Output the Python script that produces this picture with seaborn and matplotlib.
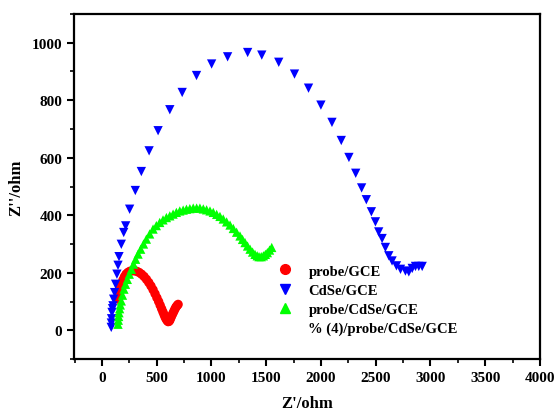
import numpy as np
import pandas as pd
import matplotlib
matplotlib.use("Agg")
import matplotlib.pyplot as plt
import seaborn as sns
from matplotlib.lines import Line2D
from matplotlib.ticker import MultipleLocator

# ---- data ----
red_x = [150, 155, 162, 170, 180, 192, 205, 220, 237, 255, 275, 296, 318, 340, 362, 385,
         407, 428, 448, 467, 485, 502, 518, 532, 545, 557, 568, 578, 588, 597, 605, 613,
         620, 628, 637, 647, 657, 667, 677, 687, 696]
red_y = [108, 122, 136, 150, 163, 175, 186, 195, 201, 205, 207, 207, 205, 201, 195, 187,
         177, 166, 154, 141, 127, 113, 100, 87, 75, 64, 54, 45, 38, 33, 30, 31,
         35, 42, 50, 58, 66, 74, 81, 86, 90]

blue_x = [85, 86, 88, 92, 97, 101, 107, 116, 125, 137, 147, 156, 177, 199, 217, 253, 305,
          360, 431, 513, 620, 733, 864, 1002, 1148, 1331, 1460, 1615, 1759, 1887, 2000,
          2101, 2186, 2256, 2318, 2372, 2415, 2461, 2498, 2528, 2559, 2589, 2620, 2650,
          2690, 2727, 2772, 2803, 2834, 2864, 2894, 2925]
blue_y = [10, 25, 40, 62, 75, 85, 108, 131, 160, 195, 226, 256, 299, 340, 363, 421, 486,
          552, 624, 694, 767, 827, 886, 926, 951, 966, 957, 932, 891, 842, 783,
          723, 660, 601, 546, 495, 454, 412, 377, 342, 319, 288, 259, 241,
          224, 212, 206, 203, 215, 222, 222, 222]

green_x = [147, 150, 153, 156, 162, 168, 177, 188, 201, 215, 232, 250, 269, 288, 308, 330,
           354, 380, 406, 436, 467, 497, 528, 558, 589, 620, 650, 680, 711, 742, 772, 803,
           834, 865, 895, 926, 956, 987, 1017, 1048, 1078, 1108, 1139, 1170, 1200, 1230,
           1261, 1284, 1307, 1330, 1353, 1376, 1398, 1418, 1435, 1455, 1475, 1493, 1511,
           1531, 1551]
green_y = [21, 35, 48, 61, 75, 88, 102, 122, 143, 160, 177, 195, 212, 230, 247, 265,
           282, 300, 317, 335, 352, 364, 375, 384, 392, 398, 404, 410, 415, 418, 421, 423,
           425, 425, 425, 422, 419, 415, 410, 403, 396, 387, 377, 366, 354, 341,
           328, 316, 305, 293, 282, 272, 264, 259, 256, 256, 259, 264, 270,
           279, 288]

labels = ["probe/GCE", "CdSe/GCE", "probe/CdSe/GCE"]
extra_label = "% (4)/probe/CdSe/GCE"
colors = ["#FF0000", "#0000FF", "#00FF00"]
markers = ["o", "v", "^"]

df = pd.concat([
    pd.DataFrame({"x": red_x, "y": red_y, "s": labels[0]}),
    pd.DataFrame({"x": blue_x, "y": blue_y, "s": labels[1]}),
    pd.DataFrame({"x": green_x, "y": green_y, "s": labels[2]}),
], ignore_index=True)

sns.set_style("white")
plt.rcParams["font.family"] = ["Liberation Serif", "DejaVu Serif"]
plt.rcParams["font.weight"] = "bold"
plt.rcParams["text.color"] = "black"
plt.rcParams["axes.labelcolor"] = "black"
plt.rcParams["xtick.color"] = "black"
plt.rcParams["ytick.color"] = "black"

fig = plt.figure(figsize=(5.56, 4.14), dpi=100)
ax = fig.add_axes([0.1331, 0.1304, 0.8379, 0.8334])

sns.scatterplot(data=df, x="x", y="y", hue="s", style="s",
                hue_order=labels, style_order=labels,
                palette=dict(zip(labels, colors)),
                markers=dict(zip(labels, markers)),
                s=45, linewidth=0, ax=ax, legend=False)

ax.set_xlim(-255, 4000)
ax.set_ylim(-100, 1100)
ax.xaxis.set_major_locator(MultipleLocator(500))
ax.xaxis.set_minor_locator(MultipleLocator(250))
ax.yaxis.set_major_locator(MultipleLocator(200))
ax.yaxis.set_minor_locator(MultipleLocator(100))
ax.tick_params(which="major", direction="out", length=5, width=1.5,
               labelsize=11, bottom=True, left=True, top=False, right=False,
               colors="black")
ax.tick_params(which="minor", direction="out", length=3, width=1.2,
               bottom=True, left=True, top=False, right=False, colors="black")
for lab in ax.get_xticklabels() + ax.get_yticklabels():
    lab.set_fontweight("bold")
for sp in ax.spines.values():
    sp.set_linewidth(1.6)
    sp.set_color("black")

ax.set_xlabel("Z'/ohm", fontsize=12, fontweight="bold", labelpad=8, color="black")
ax.set_ylabel("Z''/ohm", fontsize=12, fontweight="bold", labelpad=5, color="black")

handles = [Line2D([], [], linestyle="none", marker=m, color=c, markersize=7)
           for m, c in zip(markers, colors)]
handles.append(Line2D([], [], linestyle="none", marker=None))
leg = ax.legend(handles, labels + [extra_label], loc="lower left",
                bbox_to_anchor=(0.40, 0.04), frameon=False,
                prop={"size": 10.5, "weight": "bold"},
                handletextpad=0.6, labelspacing=0.4, borderpad=0.2)
for t in leg.get_texts():
    t.set_color("black")

fig.savefig("out.png", dpi=100)
